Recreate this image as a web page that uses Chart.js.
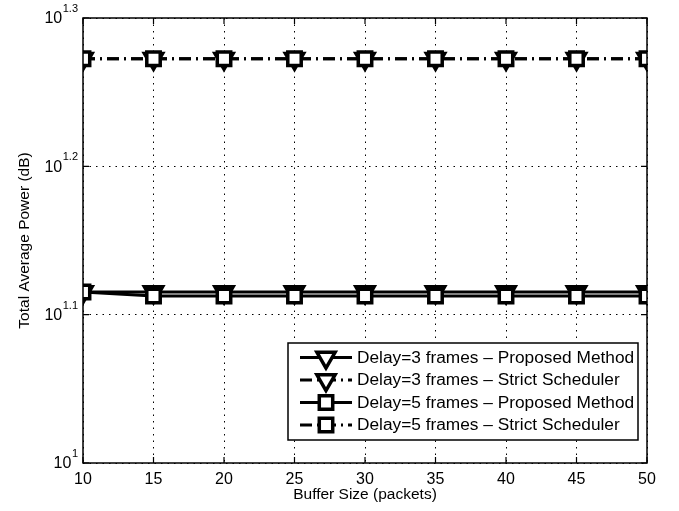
<!DOCTYPE html>
<html>
<head>
<meta charset="utf-8">
<script src="https://cdn.jsdelivr.net/npm/chart.js@4"></script>
<style>
  html, body { margin: 0; padding: 0; background: #fff; }
  #wrap { width: 679px; height: 511px; position: relative; }
</style>
</head>
<body>
<div id="wrap"><canvas id="c" width="679" height="511"></canvas></div>
<script>
// Buffer sizes (packets) on the x axis
const bufferSizes = [10, 15, 20, 25, 30, 35, 40, 45, 50];

// Total average power (linear value of the log axis)
const delay3Proposed = [13.04, 13.04, 13.04, 13.04, 13.04, 13.04, 13.04, 13.04, 13.04];
const delay3Strict   = [18.73, 18.73, 18.73, 18.73, 18.73, 18.73, 18.73, 18.73, 18.73];
const delay5Proposed = [13.04, 12.96, 12.96, 12.96, 12.96, 12.96, 12.96, 12.96, 12.96];
const delay5Strict   = [18.73, 18.73, 18.73, 18.73, 18.73, 18.73, 18.73, 18.73, 18.73];

// Log-axis tick exponents (10^e)
const yTickExponents = ['1', '1.1', '1.2', '1.3'];
const xTickValues = [10, 15, 20, 25, 30, 35, 40, 45, 50];

const seriesLabels = [
  'Delay=3 frames \u2013 Proposed Method',
  'Delay=3 frames \u2013 Strict Scheduler',
  'Delay=5 frames \u2013 Proposed Method',
  'Delay=5 frames \u2013 Strict Scheduler'
];

const FONT = '"Liberation Sans", Arial, Helvetica, sans-serif';
const DASHDOT = [12, 5, 2, 5];

function toPoints(vals) {
  return bufferSizes.map((x, i) => ({ x: x, y: vals[i] }));
}

function makeSeries(label, vals, style, dash) {
  const tri = style === 'triangle';
  return {
    label: label,
    data: toPoints(vals),
    order: tri ? 2 : 1,
    borderColor: '#000',
    borderWidth: 3,
    borderDash: dash,
    backgroundColor: '#fff',
    pointStyle: style,
    pointRotation: tri ? 180 : 0,
    pointRadius: tri ? 10.5 : 9.5,
    pointBorderWidth: 3.5,
    pointBorderColor: '#000',
    pointBackgroundColor: '#fff',
    pointHoverRadius: tri ? 10.5 : 9.5,
    tension: 0,
    fill: false
  };
}

// drawPoint with the marker colours set on the context
function drawMarker(ctx, opts, x, y) {
  ctx.save();
  ctx.fillStyle = '#fff';
  ctx.strokeStyle = '#000';
  ctx.lineWidth = opts.borderWidth;
  ctx.setLineDash([]);
  Chart.helpers.drawPoint(ctx, opts, x, y);
  ctx.restore();
}

// Frame, inward ticks, tick labels, titles and legend
const decorations = {
  id: 'decorations',
  afterDatasetsDraw(chart) {
    const ctx = chart.ctx;
    const a = chart.chartArea;
    const xs = chart.scales.x, ys = chart.scales.y;
    ctx.save();
    ctx.setLineDash([]);
    ctx.strokeStyle = '#000';
    ctx.lineWidth = 1.5;
    ctx.strokeRect(a.left, a.top, a.right - a.left, a.bottom - a.top);

    // inward tick marks
    const tl = 6;
    ctx.lineWidth = 1.2;
    ctx.beginPath();
    xTickValues.forEach(v => {
      const px = xs.getPixelForValue(v);
      ctx.moveTo(px, a.bottom); ctx.lineTo(px, a.bottom - tl);
      ctx.moveTo(px, a.top); ctx.lineTo(px, a.top + tl);
    });
    yTickExponents.forEach(e => {
      const py = ys.getPixelForValue(Math.pow(10, parseFloat(e)));
      ctx.moveTo(a.left, py); ctx.lineTo(a.left + tl, py);
      ctx.moveTo(a.right, py); ctx.lineTo(a.right - tl, py);
    });
    ctx.stroke();

    // x tick labels
    ctx.fillStyle = '#000';
    ctx.font = '16px ' + FONT;
    ctx.textAlign = 'center';
    ctx.textBaseline = 'middle';
    xTickValues.forEach(v => {
      ctx.fillText(String(v), xs.getPixelForValue(v), a.bottom + 16.5);
    });

    // y tick labels: 10 with superscript exponent
    yTickExponents.forEach(e => {
      const py = ys.getPixelForValue(Math.pow(10, parseFloat(e)));
      ctx.font = '11px ' + FONT;
      const ew = ctx.measureText(e).width;
      const right = a.left - 5;
      ctx.textAlign = 'left';
      ctx.textBaseline = 'middle';
      ctx.fillText(e, right - ew, py - 9);
      ctx.font = '16px ' + FONT;
      ctx.textAlign = 'right';
      ctx.fillText('10', right - ew - 0.5, py + 1);
    });

    // axis titles
    ctx.font = '15.5px ' + FONT;
    ctx.textAlign = 'center';
    ctx.textBaseline = 'middle';
    ctx.fillText('Buffer Size (packets)', (a.left + a.right) / 2, a.bottom + 32);
    ctx.save();
    ctx.translate(25, (a.top + a.bottom) / 2);
    ctx.rotate(-Math.PI / 2);
    ctx.fillText('Total Average Power (dB)', 0, 0);
    ctx.restore();

    // legend
    const lx = 288, ly = 343, lw = 350, lh = 97;
    ctx.fillStyle = '#fff';
    ctx.fillRect(lx, ly, lw, lh);
    ctx.strokeStyle = '#000';
    ctx.lineWidth = 1.5;
    ctx.strokeRect(lx, ly, lw, lh);
    chart.data.datasets.forEach((ds, i) => {
      const cy = 357.5 + i * 22.5;
      ctx.save();
      ctx.strokeStyle = '#000';
      ctx.lineWidth = 3;
      ctx.setLineDash(ds.borderDash || []);
      ctx.beginPath();
      ctx.moveTo(300, cy);
      ctx.lineTo(352, cy);
      ctx.stroke();
      ctx.restore();
      drawMarker(ctx, {
        pointStyle: ds.pointStyle,
        rotation: ds.pointRotation,
        radius: ds.pointRadius,
        borderWidth: ds.pointBorderWidth
      }, 326, cy);
      ctx.fillStyle = '#000';
      ctx.font = '17.3px ' + FONT;
      ctx.textAlign = 'left';
      ctx.textBaseline = 'middle';
      ctx.fillText(ds.label, 357, cy + 0.5);
    });
    ctx.restore();
  }
};

new Chart(document.getElementById('c'), {
  type: 'line',
  data: {
    datasets: [
      makeSeries(seriesLabels[0], delay3Proposed, 'triangle', []),
      makeSeries(seriesLabels[1], delay3Strict, 'triangle', DASHDOT),
      makeSeries(seriesLabels[2], delay5Proposed, 'rect', []),
      makeSeries(seriesLabels[3], delay5Strict, 'rect', DASHDOT)
    ]
  },
  options: {
    responsive: false,
    animation: false,
    events: [],
    layout: { padding: { left: 83, right: 32, top: 18, bottom: 48 } },
    plugins: { legend: { display: false }, tooltip: { enabled: false } },
    scales: {
      x: {
        type: 'linear',
        min: 10, max: 50,
        afterBuildTicks: s => { s.ticks = xTickValues.map(v => ({ value: v })); },
        ticks: { display: false },
        grid: { color: '#000', lineWidth: 1, drawTicks: false },
        border: { display: false, dash: [1.5, 5] }
      },
      y: {
        type: 'logarithmic',
        min: 10, max: Math.pow(10, 1.3),
        afterBuildTicks: s => { s.ticks = yTickExponents.map(e => ({ value: Math.pow(10, parseFloat(e)) })); },
        ticks: { display: false },
        grid: { color: '#000', lineWidth: 1, drawTicks: false },
        border: { display: false, dash: [1.5, 5] }
      }
    }
  },
  plugins: [decorations]
});
</script>
</body>
</html>
